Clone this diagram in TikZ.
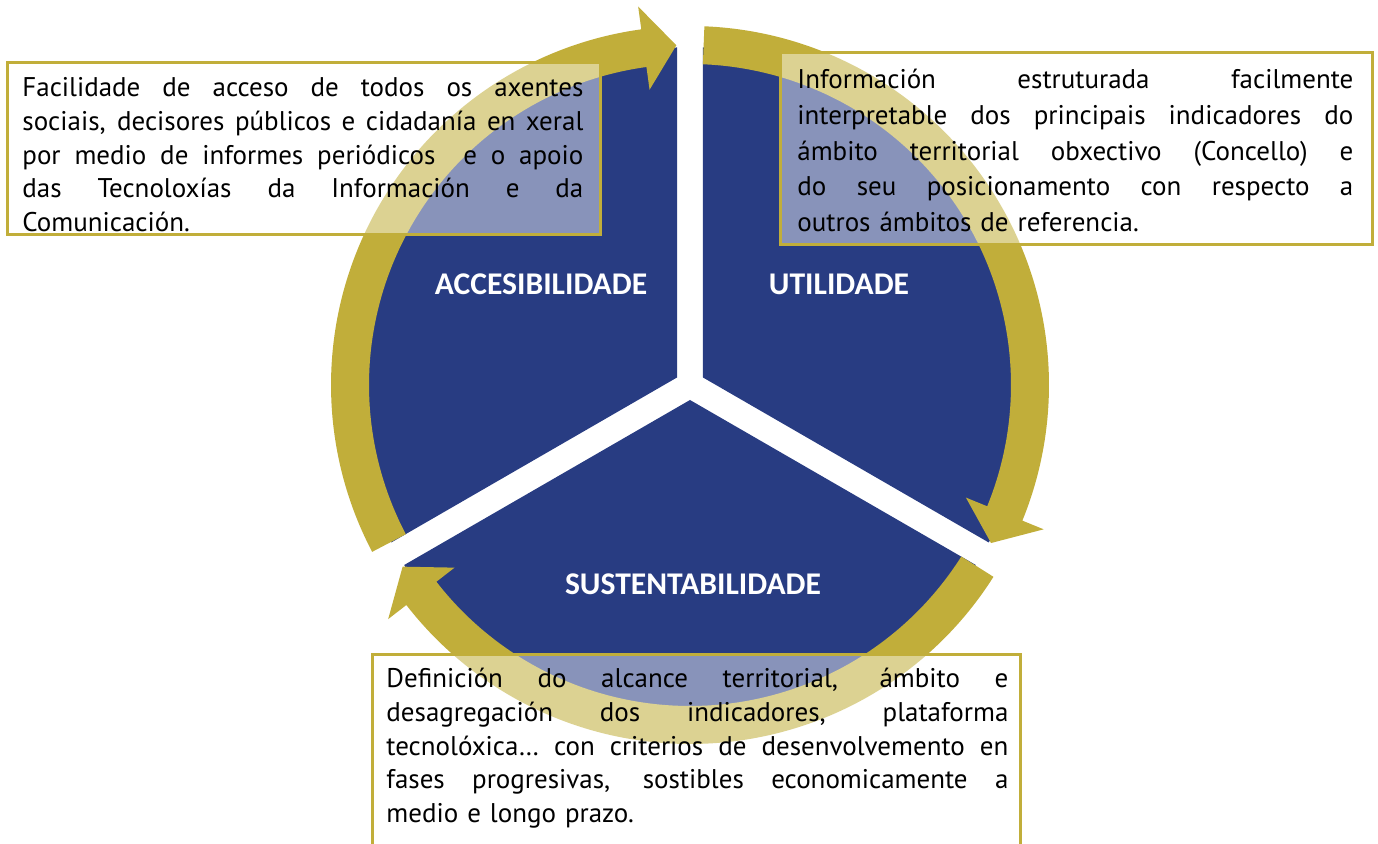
\documentclass[tikz,border=0pt]{standalone}
\usepackage{fontspec}
\setmainfont{PT Sans}
\newfontfamily\labelfont{Carlito}
\usepackage{tikz}
\usetikzlibrary{%
  arrows,%
  positioning,% wg. " of "
  calc%
}

\definecolor{cycblue}{RGB}{40,60,130}
\definecolor{cycgold}{RGB}{193,174,58}

% one fully justified line of given width
\newcommand{\jline}[2]{\hbox to #1{\spaceskip=0.25em plus 1fil\relax #2}}

\tikzset{
  descbox/.style={draw=cycgold,line width=1.5pt,fill=white,fill opacity=0.45},
  desctext/.style={anchor=base west,inner sep=0pt,text=black},
  seglabel/.style={font=\labelfont\bfseries\fontsize{15.8}{18}\selectfont,text=white},
}

\begin{document}
\begin{tikzpicture}[
  x=0.5pt,y=0.5pt,
]

\clip (0,0) rectangle (1378,-844);

% sectors
\begin{scope}[shift={(690,-385)}]
\foreach \m in {150,30,-90} {
  \fill[cycblue] (\m:15) -- ++(\m-60:330) arc[start angle=\m-60, end angle=\m+60, radius=330] -- cycle;
}
% arrows round the cycle
\foreach \a in {90,-30,-150} {
  \pgfmathsetmacro\st{\a-2.3}
  \pgfmathsetmacro\tp{\a-117.7}
  \pgfmathsetmacro\bk{\tp+5.5}
  \fill[cycgold] (\st:359) arc[start angle=\st, end angle=\bk, radius=359]
    -- (\bk:382) -- (\tp:340) -- (\bk:298) -- (\bk:321)
    arc[start angle=\bk, end angle=\st, radius=321] -- cycle;
}
\end{scope}

\node[seglabel] (acc) at (541,-284) {ACCESIBILIDADE};
\node[seglabel] (uti) at (839,-284) {UTILIDADE};
\node[seglabel] (sus) at (693,-584) {SUSTENTABILIDADE};

% text boxes
\draw[descbox] (7,-63) rectangle (600,-235);
\draw[descbox] (780,-53) rectangle (1372,-245);
\draw[descbox] (372,-655) rectangle (1020,-870);

\node[desctext,text width=280.5pt,font=\fontsize{13.5}{16.8}\selectfont] (acctext) at (22,-97) {%
\jline{280.5pt}{Facilidade de acceso de todos os axentes}
\jline{280.5pt}{sociais, decisores públicos e cidadanía en xeral}
\jline{280.5pt}{por medio de informes periódicos \ e o apoio}
\jline{280.5pt}{das Tecnoloxías da Información e da}
Comunicación.};

\node[desctext,text width=278pt,font=\fontsize{13.5}{17.8}\selectfont] (utitext) at (797,-89) {%
\jline{278pt}{Información estruturada facilmente}
\jline{278pt}{interpretable dos principais indicadores do}
\jline{278pt}{ámbito territorial obxectivo (Concello) e}
\jline{278pt}{do seu posicionamento con respecto a}
outros ámbitos de referencia.};

\node[desctext,text width=311pt,font=\fontsize{13.5}{16.8}\selectfont] (sustext) at (386,-688) {%
\jline{311pt}{Definición do alcance territorial, ámbito e}
\jline{311pt}{desagregación dos indicadores, plataforma}
\jline{311pt}{tecnolóxica… con criterios de desenvolvemento en}
\jline{311pt}{fases progresivas, sostibles economicamente a}
medio e longo prazo.};

\end{tikzpicture}
\end{document}
